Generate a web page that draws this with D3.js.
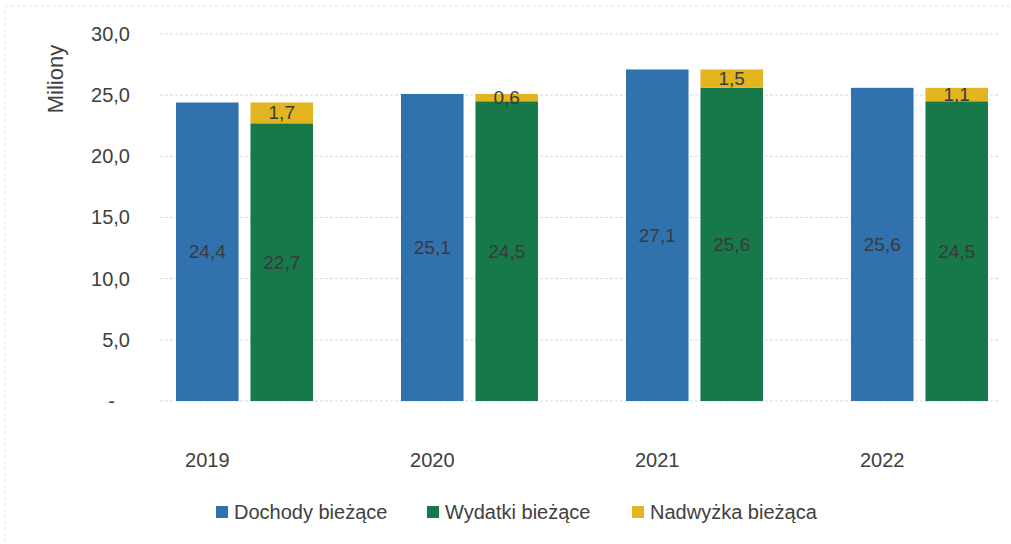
<!DOCTYPE html>
<html>
<head>
<meta charset="utf-8">
<script src="https://cdn.jsdelivr.net/npm/d3@7"></script>
<style>
  body { margin: 0; background: #fff; }
  text { font-family: "Liberation Sans", Arial, sans-serif; }
</style>
</head>
<body>
<div id="chart"></div>
<script>
// chart data
var years = ["2019", "2020", "2021", "2022"];
var dochody = [24.4, 25.1, 27.1, 25.6];
var wydatki = [22.7, 24.5, 25.6, 24.5];
var nadwyzka = [1.7, 0.6, 1.5, 1.1];
var yTicks = [0, 5, 10, 15, 20, 25, 30];
var seriesNames = ["Dochody bieżące", "Wydatki bieżące", "Nadwyżka bieżąca"];
var colors = ["#3171ae", "#17784a", "#e2b420"];

var width = 1011, height = 544;

var svg = d3.select("#chart").append("svg")
    .attr("width", width).attr("height", height);

// faint frame of the scanned chart
svg.append("rect")
    .attr("x", 5).attr("y", 6).attr("width", 1010).attr("height", 560)
    .attr("fill", "none").attr("stroke", "#e4e4e4").attr("stroke-dasharray", "3,3");

var y = d3.scaleLinear().domain([0, 30]).range([401, 34]);

var x0 = d3.scaleBand().domain(years).range([176, 988])
    .paddingInner(0.391).paddingOuter(0);
var x1 = d3.scaleBand().domain(["d", "w"]).range([0, x0.bandwidth()])
    .paddingInner(0.16).paddingOuter(0);

var fmt = function(v) { return d3.format(".1f")(v).replace(".", ","); };

// gridlines
svg.append("g").selectAll("line")
    .data(yTicks)
    .enter().append("line")
    .attr("x1", 160).attr("x2", 1000)
    .attr("y1", function(d) { return y(d); })
    .attr("y2", function(d) { return y(d); })
    .attr("stroke", "#dadada")
    .attr("stroke-dasharray", "3,2");

// y axis
var yAxis = svg.append("g")
    .attr("transform", "translate(142,0)")
    .call(d3.axisLeft(y).tickValues(yTicks).tickSize(0).tickPadding(12)
        .tickFormat(function(d) { return d === 0 ? "-" : fmt(d); }));
yAxis.select(".domain").remove();
yAxis.selectAll("text")
    .attr("font-size", "20px")
    .attr("fill", "#404040")
    .attr("font-family", "Liberation Sans, Arial, sans-serif")
    .attr("dx", function(d) { return d === 0 ? -15 : 0; });

svg.append("text")
    .attr("transform", "translate(63,79) rotate(-90)")
    .attr("text-anchor", "middle")
    .attr("font-size", "22px")
    .attr("fill", "#404040")
    .text("Miliony");

var rows = years.map(function(yr, i) {
    return { year: yr, d: dochody[i], w: wydatki[i], n: nadwyzka[i] };
});

var g = svg.selectAll("g.year")
    .data(rows)
    .enter().append("g")
    .attr("class", "year")
    .attr("transform", function(d) { return "translate(" + x0(d.year) + ",0)"; });

// Dochody
g.append("rect")
    .attr("x", x1("d"))
    .attr("width", x1.bandwidth())
    .attr("y", function(d) { return y(d.d); })
    .attr("height", function(d) { return y(0) - y(d.d); })
    .attr("fill", colors[0]);

// Wydatki
g.append("rect")
    .attr("x", x1("w"))
    .attr("width", x1.bandwidth())
    .attr("y", function(d) { return y(d.w); })
    .attr("height", function(d) { return y(0) - y(d.w); })
    .attr("fill", colors[1]);

// Nadwyżka stacked on Wydatki
g.append("rect")
    .attr("x", x1("w"))
    .attr("width", x1.bandwidth())
    .attr("y", function(d) { return y(d.w + d.n); })
    .attr("height", function(d) { return y(d.w) - y(d.w + d.n); })
    .attr("fill", colors[2]);

// value labels
var lbl = function(sel) {
    return sel.attr("text-anchor", "middle")
        .attr("dominant-baseline", "central")
        .attr("font-size", "19px")
        .attr("fill", "#3a3a3a");
};
lbl(g.append("text"))
    .attr("x", x1("d") + x1.bandwidth() / 2)
    .attr("y", function(d) { return y(d.d / 2); })
    .text(function(d) { return fmt(d.d); });
lbl(g.append("text"))
    .attr("x", x1("w") + x1.bandwidth() / 2)
    .attr("y", function(d) { return y(d.w / 2); })
    .text(function(d) { return fmt(d.w); });
lbl(g.append("text"))
    .attr("x", x1("w") + x1.bandwidth() / 2)
    .attr("y", function(d) { return y(d.w + d.n / 2); })
    .text(function(d) { return fmt(d.n); });

// year labels
g.append("text")
    .attr("x", x1("d") + x1.bandwidth() / 2)
    .attr("y", 467)
    .attr("text-anchor", "middle")
    .attr("font-size", "20px")
    .attr("fill", "#404040")
    .text(function(d) { return d.year; });

// legend
var legX = [216, 427, 632];
var leg = svg.selectAll("g.leg")
    .data(seriesNames)
    .enter().append("g")
    .attr("class", "leg")
    .attr("transform", function(d, i) { return "translate(" + legX[i] + ",512)"; });
leg.append("rect")
    .attr("x", 0).attr("y", -6).attr("width", 12).attr("height", 12)
    .attr("fill", function(d, i) { return colors[i]; });
leg.append("text")
    .attr("x", 18).attr("y", 0)
    .attr("dominant-baseline", "central")
    .attr("font-size", "20px")
    .attr("fill", "#404040")
    .text(function(d) { return d; });
</script>
</body>
</html>
